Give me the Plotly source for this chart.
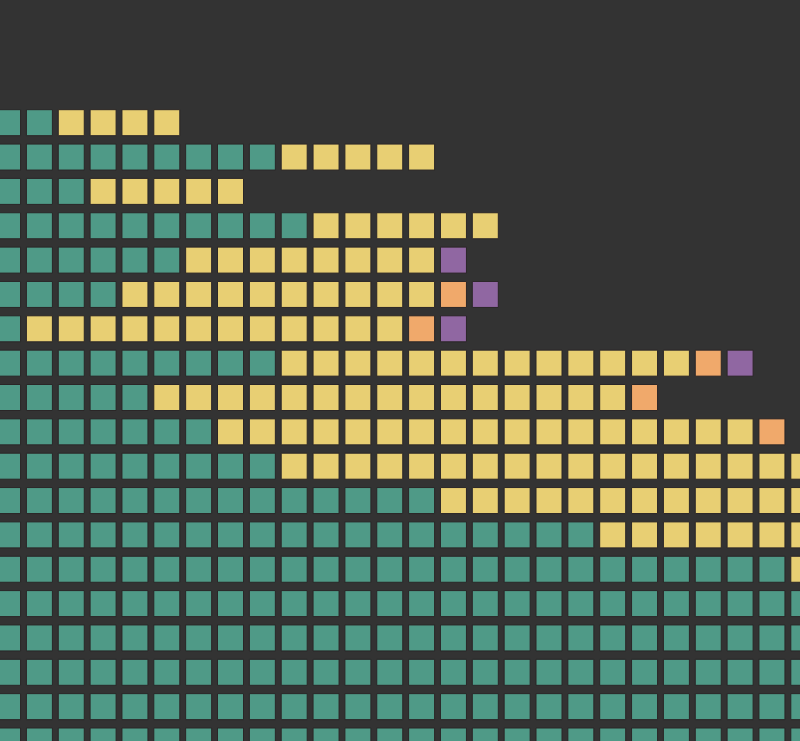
import plotly.graph_objects as go

# Units per row (top to bottom), by category, laid out left to right
rows = list(range(19))
teal_counts   = [2, 9, 3, 10, 6, 4, 1, 9, 5, 7, 9, 14, 19, 25, 27, 27, 27, 27, 27]
yellow_counts = [4, 5, 5, 6, 8, 10, 12, 13, 15, 17, 18, 13, 8, 2, 0, 0, 0, 0, 0]
orange_counts = [0, 0, 0, 0, 0, 1, 1, 1, 1, 1, 0, 0, 0, 0, 0, 0, 0, 0, 0]
purple_counts = [0, 0, 0, 0, 1, 1, 1, 1, 0, 0, 0, 0, 0, 0, 0, 0, 0, 0, 0]

categories = ["Teal", "Yellow", "Orange", "Purple"]
colors = ["#4f9a87", "#e8cf73", "#f0a96b", "#9067a2"]
series = [teal_counts, yellow_counts, orange_counts, purple_counts]

fig = go.Figure()
offsets = [0] * len(rows)
for name, col, counts in zip(categories, colors, series):
    xs, ys = [], []
    for r, n in zip(rows, counts):
        for k in range(n):
            xs.append(offsets[r] + k)
            ys.append(r)
        offsets[r] += n
    fig.add_trace(go.Scatter(
        x=xs, y=ys, mode="markers", name=name,
        marker=dict(symbol="square", size=26, color=col,
                    line=dict(width=1, color="#2a2627")),
        cliponaxis=True, hoverinfo="skip", showlegend=False,
    ))

W, H = 800, 741
col_pitch, col0_center = 31.85, 7.55
row_pitch, row0_center = 34.35, 122.7

fig.update_layout(
    width=W, height=H,
    margin=dict(l=0, r=0, t=0, b=0),
    paper_bgcolor="#333333", plot_bgcolor="#333333",
    xaxis=dict(range=[(0 - col0_center) / col_pitch, (W - col0_center) / col_pitch],
               visible=False, showgrid=False, zeroline=False, fixedrange=True),
    yaxis=dict(range=[(H - row0_center) / row_pitch, (0 - row0_center) / row_pitch],
               visible=False, showgrid=False, zeroline=False, fixedrange=True),
)

fig.write_html("out.html", config={"displayModeBar": False})
